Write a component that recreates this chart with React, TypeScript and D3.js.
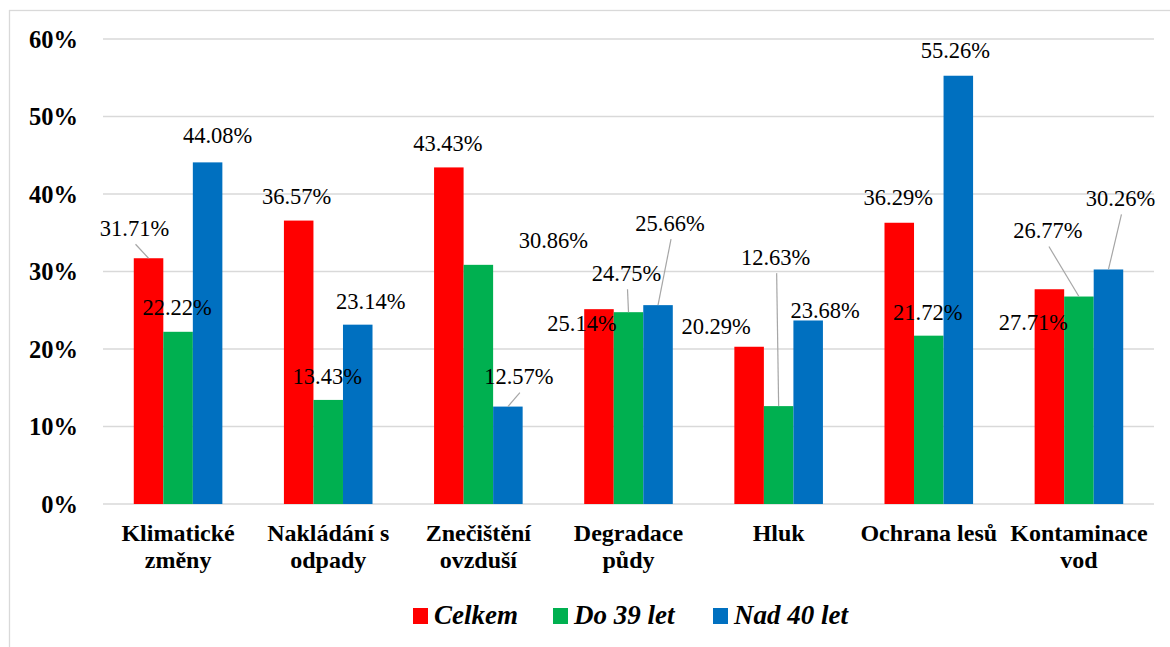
import React, { useEffect, useRef } from "react";
import * as d3 from "d3";

const categories: string[][] = [
  ["Klimatické", "změny"],
  ["Nakládání s", "odpady"],
  ["Znečištění", "ovzduší"],
  ["Degradace", "půdy"],
  ["Hluk"],
  ["Ochrana lesů"],
  ["Kontaminace", "vod"],
];
const seriesNames = ["Celkem", "Do 39 let", "Nad 40 let"];
const celkem = [31.71, 36.57, 43.43, 25.14, 20.29, 36.29, 27.71];
const do39 = [22.22, 13.43, 30.86, 24.75, 12.63, 21.72, 26.77];
const nad40 = [44.08, 23.14, 12.57, 25.66, 23.68, 55.26, 30.26];
const yTicks = [0, 10, 20, 30, 40, 50, 60];

const colors = ["#FF0000", "#00B050", "#0070C0"];

// label placement (layout only): offset of label centre from bar top-centre
const labelOffsets: [number, number][][] = [
  [[-14, -30], [-2, -24], [-1, -24], [-17, 14], [-33, -20], [-1, -25], [-16, 33]],
  [[-1, -24], [-1, -23], [75, -24], [-2, -39], [-3, -149], [-1, -23], [-31, -66]],
  [[10, -27], [13, -23], [11, -30], [12, -82], [17, -10], [-3, -25], [12, -71]],
];
const leaders: boolean[][] = [
  [true, false, false, false, false, false, false],
  [false, false, false, true, true, false, true],
  [false, false, true, true, false, false, true],
];
const legendX = [413, 553, 713];

const W = 1170;
const H = 647;
const left = 103;
const right = 1154;
const top = 39;
const bottom = 504;
const FF = "'Liberation Serif'";

export default function App() {
  const ref = useRef<SVGSVGElement>(null);
  useEffect(() => {
    if (!ref.current) return;
    d3.select(ref.current)
      .selectAll<SVGElement, unknown>("text, tspan")
      .each(function () {
        this.style.setProperty("font-family", "'Liberation Serif', 'Times New Roman', serif", "important");
      });
  }, []);

  const seriesData = [celkem, do39, nad40];
  const catKeys = categories.map((c) => c.join(" "));
  const x0 = d3
    .scaleBand()
    .domain(catKeys)
    .range([left, right])
    .paddingInner(0.41)
    .paddingOuter(0.205);
  const x1 = d3.scaleBand().domain(seriesNames).range([0, x0.bandwidth()]);
  const y = d3.scaleLinear().domain([0, 60]).range([bottom, top]);

  return (
    <svg
      ref={ref}
      width={W}
      height={H}
      style={{ position: "absolute", left: 0, top: 0, background: "#fff", fontFamily: FF }}
    >
      <style>{`svg text, svg tspan { font-family: 'Liberation Serif', 'Times New Roman', serif !important; }`}</style>
      <rect x={9.5} y={10.5} width={W} height={H} fill="#fff" stroke="#d9d9d9" strokeWidth={1.3} />
      {yTicks.map((t) => (
        <g key={t}>
          <line x1={left} x2={right} y1={y(t)} y2={y(t)} stroke="#d9d9d9" strokeWidth={1.5} />
          <text
            x={78}
            y={y(t) + 8.5}
            textAnchor="end"
            fontFamily={FF}
            style={{ fontFamily: FF, fontWeight: "bold", fontSize: "24.5px" }}
          >
            {t}%
          </text>
        </g>
      ))}
      {seriesData.map((vals, si) =>
        vals.map((v, ci) => (
          <rect
            key={`b-${si}-${ci}`}
            x={(x0(catKeys[ci]) as number) + (x1(seriesNames[si]) as number)}
            y={y(v)}
            width={x1.bandwidth()}
            height={bottom - y(v)}
            fill={colors[si]}
          />
        ))
      )}
      {seriesData.map((vals, si) =>
        vals.map((v, ci) => {
          const bcx = (x0(catKeys[ci]) as number) + (x1(seriesNames[si]) as number) + x1.bandwidth() / 2;
          const by = y(v);
          const [dx, dy] = labelOffsets[si][ci];
          const cx = bcx + dx;
          const cy = by + dy;
          return (
            <g key={`l-${si}-${ci}`}>
              {leaders[si][ci] && (
                <line x1={cx + 1} y1={cy + 16} x2={bcx} y2={by} stroke="#a6a6a6" strokeWidth={1.2} />
              )}
              <text
                x={cx}
                y={cy + 7.5}
                textAnchor="middle"
                fontFamily={FF}
                style={{ fontFamily: FF, fontSize: "22.5px" }}
              >
                {v.toFixed(2)}%
              </text>
            </g>
          );
        })
      )}
      {categories.map((lines, ci) => {
        const cx = (x0(catKeys[ci]) as number) + x0.bandwidth() / 2;
        return (
          <text
            key={`c-${ci}`}
            textAnchor="middle"
            fontFamily={FF}
            style={{ fontFamily: FF, fontWeight: "bold", fontSize: "24px" }}
          >
            {lines.map((ln, li) => (
              <tspan key={li} x={cx} y={541 + li * 27}>
                {ln}
              </tspan>
            ))}
          </text>
        );
      })}
      {seriesNames.map((s, si) => (
        <g key={`lg-${si}`}>
          <rect x={legendX[si]} y={608} width={15} height={16} fill={colors[si]} />
          <text
            x={legendX[si] + 21}
            y={624}
            fontFamily={FF}
            style={{ fontFamily: FF, fontWeight: "bold", fontStyle: "italic", fontSize: "27px" }}
          >
            {s}
          </text>
        </g>
      ))}
    </svg>
  );
}
